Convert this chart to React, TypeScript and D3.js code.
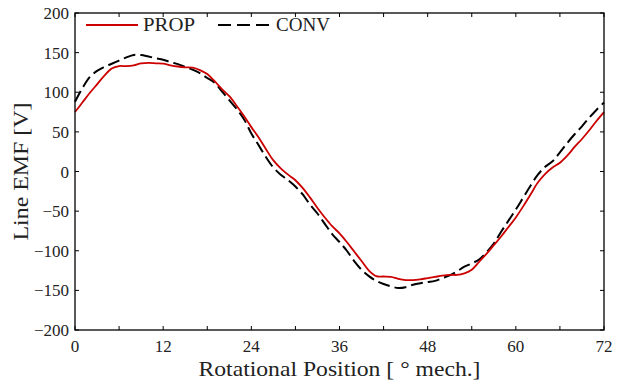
import React, { useEffect, useRef } from "react";
import * as d3 from "d3";

// rotational position in degrees (mech.)
const positions = d3.range(0, 73);

// Line EMF [V], proposed machine
const propEmf = [
  75, 87, 99, 110, 121, 130, 133, 133, 134, 136.5,
  137, 136.5, 136, 134, 132.5, 131.5, 131, 128, 123, 114,
  104, 95, 83, 70, 56, 43, 28, 14, 4, -4,
  -11, -21, -33, -46, -58, -69, -78, -89, -101, -113,
  -125, -132, -132.5, -133, -135.5, -137, -137, -136, -134.5, -133,
  -131.5, -130.5, -130.5, -128.5, -124, -114, -104, -93, -82, -70,
  -58, -44, -29, -14, -3, 5, 11, 20, 31, 41,
  52, 64, 75,
];

// Line EMF [V], conventional machine
const convEmf = [
  88, 105, 119, 127, 132, 136, 140, 144, 147, 147,
  145, 143, 141, 138, 135.5, 132, 128.5, 124, 118, 112,
  101, 90, 79, 66, 48, 33, 18, 5, -4, -11,
  -19, -29, -42, -53, -66, -79, -89, -100, -113, -124,
  -132, -138, -142, -145, -147, -146, -143, -141, -139.5, -138,
  -134.5, -131, -126, -120, -116, -111, -102, -91, -76, -62,
  -48, -33, -18, -4, 6, 13, 24, 36, 47, 57,
  68, 78, 87,
];

const xTicks = d3.range(0, 73, 6);
const xLabels = [0, 12, 24, 36, 48, 60, 72];
const yTicks = d3.range(-200, 201, 50);

const App = () => {
  const svgRef = useRef<SVGSVGElement>(null);

  useEffect(() => {
    const width = 628;
    const height = 385;
    const margins = { top: 13, right: 24, bottom: 55, left: 75 };
    const font = "'Liberation Serif', 'Times New Roman', serif";

    const svg = d3.select(svgRef.current);
    svg.selectAll("*").remove();
    svg.attr("width", width).attr("height", height);

    const x = d3
      .scaleLinear()
      .domain([0, 72])
      .range([margins.left, width - margins.right]);
    const y = d3
      .scaleLinear()
      .domain([-200, 200])
      .range([height - margins.bottom, margins.top]);

    const [x0, x1] = x.range();
    const [y0, y1] = y.range();

    // curves
    const line = d3
      .line<number>()
      .x((_, i) => x(positions[i]))
      .y((d) => y(d))
      .curve(d3.curveCatmullRom.alpha(0.5));

    svg
      .append("path")
      .datum(convEmf)
      .attr("d", line)
      .attr("fill", "none")
      .attr("stroke", "#000")
      .attr("stroke-width", 2)
      .attr("stroke-dasharray", "12,5");

    svg
      .append("path")
      .datum(propEmf)
      .attr("d", line)
      .attr("fill", "none")
      .attr("stroke", "#cc0000")
      .attr("stroke-width", 1.8);

    // frame
    svg
      .append("rect")
      .attr("x", x0)
      .attr("y", y1)
      .attr("width", x1 - x0)
      .attr("height", y0 - y1)
      .attr("fill", "none")
      .attr("stroke", "#000")
      .attr("stroke-width", 1.3);

    // inward ticks, all four sides
    const tickLen = 4;
    xTicks.forEach((t) => {
      svg.append("line")
        .attr("x1", x(t)).attr("x2", x(t))
        .attr("y1", y0).attr("y2", y0 - tickLen)
        .attr("stroke", "#000").attr("stroke-width", 1);
      svg.append("line")
        .attr("x1", x(t)).attr("x2", x(t))
        .attr("y1", y1).attr("y2", y1 + tickLen)
        .attr("stroke", "#000").attr("stroke-width", 1);
    });
    yTicks.forEach((t) => {
      svg.append("line")
        .attr("x1", x0).attr("x2", x0 + tickLen)
        .attr("y1", y(t)).attr("y2", y(t))
        .attr("stroke", "#000").attr("stroke-width", 1);
      svg.append("line")
        .attr("x1", x1).attr("x2", x1 - tickLen)
        .attr("y1", y(t)).attr("y2", y(t))
        .attr("stroke", "#000").attr("stroke-width", 1);
    });

    // tick labels
    svg
      .selectAll(".xlab")
      .data(xLabels)
      .enter()
      .append("text")
      .attr("x", (d) => x(d))
      .attr("y", y0 + 22)
      .attr("text-anchor", "middle")
      .attr("font-family", font)
      .attr("font-size", 17)
      .attr("fill", "#222")
      .text((d) => d);

    svg
      .selectAll(".ylab")
      .data(yTicks)
      .enter()
      .append("text")
      .attr("x", x0 - 6)
      .attr("y", (d) => y(d) + 6)
      .attr("text-anchor", "end")
      .attr("font-family", font)
      .attr("font-size", 17)
      .attr("fill", "#222")
      .text((d) => (d < 0 ? "\u2212" + Math.abs(d) : String(d)));

    // axis titles
    svg
      .append("text")
      .attr("x", (x0 + x1) / 2)
      .attr("y", height - 9)
      .attr("text-anchor", "middle")
      .attr("font-family", font)
      .attr("font-size", 21)
      .attr("fill", "#222")
      .attr("textLength", 282)
      .attr("lengthAdjust", "spacingAndGlyphs")
      .text("Rotational Position [ \u00b0 mech.]");

    svg
      .append("text")
      .attr("transform", `translate(28, ${(y0 + y1) / 2}) rotate(-90)`)
      .attr("text-anchor", "middle")
      .attr("font-family", font)
      .attr("font-size", 21)
      .attr("fill", "#222")
      .attr("textLength", 138)
      .attr("lengthAdjust", "spacingAndGlyphs")
      .text("Line EMF [V]");

    // legend
    const ly = 25;
    svg.append("line")
      .attr("x1", 86).attr("x2", 138)
      .attr("y1", ly).attr("y2", ly)
      .attr("stroke", "#cc0000").attr("stroke-width", 1.8);
    svg.append("text")
      .attr("x", 143).attr("y", ly + 6)
      .attr("font-family", font).attr("font-size", 18)
      .attr("fill", "#222")
      .attr("textLength", 52).attr("lengthAdjust", "spacingAndGlyphs")
      .text("PROP");
    svg.append("line")
      .attr("x1", 218).attr("x2", 269)
      .attr("y1", ly).attr("y2", ly)
      .attr("stroke", "#000").attr("stroke-width", 2)
      .attr("stroke-dasharray", "13,6");
    svg.append("text")
      .attr("x", 276).attr("y", ly + 6)
      .attr("font-family", font).attr("font-size", 18)
      .attr("fill", "#222")
      .attr("textLength", 54).attr("lengthAdjust", "spacingAndGlyphs")
      .text("CONV");
  }, []);

  return (
    <svg
      ref={svgRef}
      style={{ position: "absolute", left: 0, top: 0, background: "#fff" }}
    ></svg>
  );
};

export default App;
